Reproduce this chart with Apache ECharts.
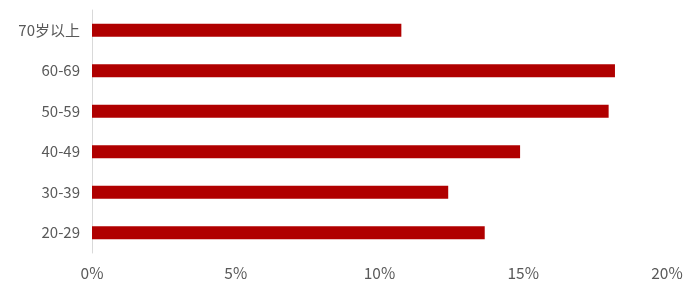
<!DOCTYPE html>
<html><head><meta charset="utf-8">
<script src="https://cdn.jsdelivr.net/npm/echarts@6/dist/echarts.min.js"></script>
<style>html,body{margin:0;padding:0;background:#fff}#c{width:700px;height:293px}</style>
</head><body><div id="c"></div>
<script>
const categories = ['20-29', '30-39', '40-49', '50-59', '60-69', '70岁以上'];
const values = [13.66, 12.39, 14.89, 17.97, 18.19, 10.76];
const xTicks = [0, 5, 10, 15, 20];

const chart = echarts.init(document.getElementById('c'), null, {renderer: 'canvas'});
chart.setOption({
  animation: false,
  grid: {left: 92, top: 10, width: 575, height: 243, containLabel: false},
  xAxis: {
    type: 'value', min: xTicks[0], max: xTicks[xTicks.length - 1], interval: 5,
    axisLine: {show: false}, axisTick: {show: false}, splitLine: {show: false},
    axisLabel: {formatter: v => v + '%', color: '#595959', fontSize: 15.5, margin: 12,
      fontFamily: '"Noto Sans CJK SC", "Noto Sans", sans-serif'}
  },
  yAxis: {
    type: 'category', data: categories,
    axisLine: {show: true, lineStyle: {color: '#d9d9d9', width: 1}},
    axisTick: {show: false},
    axisLabel: {color: '#595959', fontSize: 15, margin: 12,
      fontFamily: '"Noto Sans CJK SC", "Noto Sans", sans-serif'}
  },
  series: [{
    type: 'bar', data: values, barWidth: 13,
    itemStyle: {color: '#b00000'}
  }]
});
</script></body></html>
